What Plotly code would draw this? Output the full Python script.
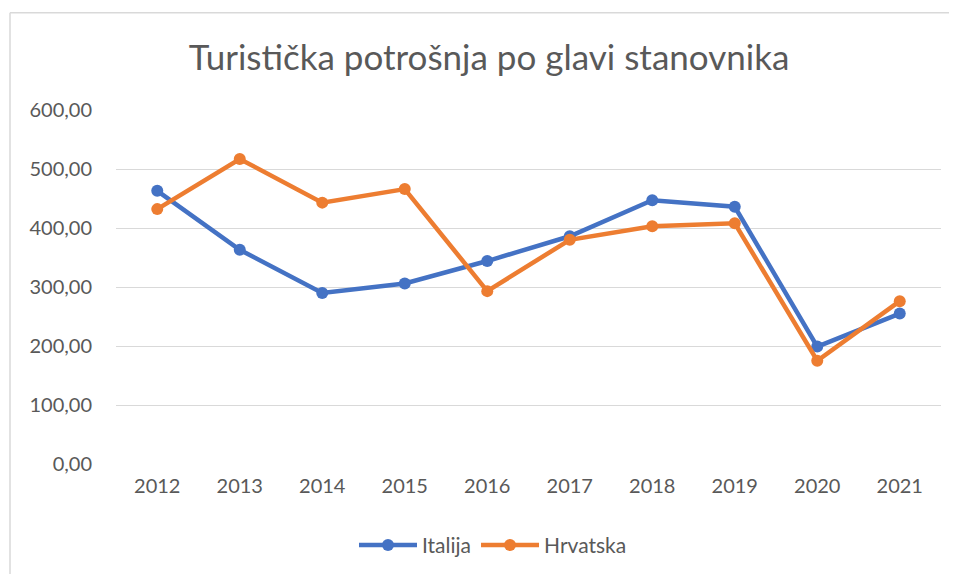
import plotly.graph_objects as go

years = ["2012", "2013", "2014", "2015", "2016", "2017", "2018", "2019", "2020", "2021"]
italija = [463, 363, 290, 306, 344, 386, 447, 436, 199, 255]
hrvatska = [432, 517, 443, 466, 293, 380, 403, 408, 175, 276]

fig = go.Figure()
fig.add_trace(go.Scatter(x=years, y=italija, name="Italija", mode="lines+markers",
                         line=dict(color="#4472C4", width=4.5), marker=dict(size=12, color="#4472C4")))
fig.add_trace(go.Scatter(x=years, y=hrvatska, name="Hrvatska", mode="lines+markers",
                         line=dict(color="#ED7D31", width=4.5), marker=dict(size=12, color="#ED7D31")))

OFF = 8  # page body margin
W, H = 941, 566
ml, mt = 116 - OFF, 110 - OFF
pr, pb = 941 - OFF, 467 - OFF
mr, mb = W - pr, H - pb
pw, ph = pr - ml, pb - mt

def px(x):
    return (x - OFF - ml) / pw

def py(y):
    return (pb - (y - OFF)) / ph

fig.update_layout(
    width=W, height=H,
    margin=dict(l=ml, r=mr, t=mt, b=mb),
    paper_bgcolor="white", plot_bgcolor="white",
    separators=", ",
    font=dict(family="Lato, sans-serif", color="#595959", size=20),
    title=dict(text="Turistička potrošnja po glavi stanovnika", x=(489 - OFF) / W, xanchor="center",
               y=1 - (58 - OFF) / H, yanchor="middle", font=dict(size=35, color="#595959")),
    legend=dict(orientation="h", x=px(493), xanchor="center", y=py(549), yanchor="middle",
                itemwidth=58, font=dict(size=21, color="#595959")),
    showlegend=True,
    shapes=[
        dict(type="line", xref="paper", yref="paper", x0=px(10), x1=px(10), y0=py(582), y1=py(12),
             line=dict(color="#D9D9D9", width=1.5), layer="below"),
        dict(type="line", xref="paper", yref="paper", x0=px(10), x1=px(957), y0=py(12), y1=py(12),
             line=dict(color="#D9D9D9", width=1.5), layer="below"),
    ],
)
fig.update_xaxes(type="category", range=[-0.5, 9.5], showgrid=False, showline=False, ticks="",
                 tickfont=dict(size=20, color="#595959"), zeroline=False, ticklabelstandoff=8)
fig.update_yaxes(range=[0, 600], dtick=100, tickformat=".2f", showgrid=True, gridcolor="#D9D9D9",
                 gridwidth=1, zeroline=False, showline=False, ticks="", ticklabelstandoff=23,
                 tickfont=dict(size=20, color="#595959"))

fig.write_html("out.html")
